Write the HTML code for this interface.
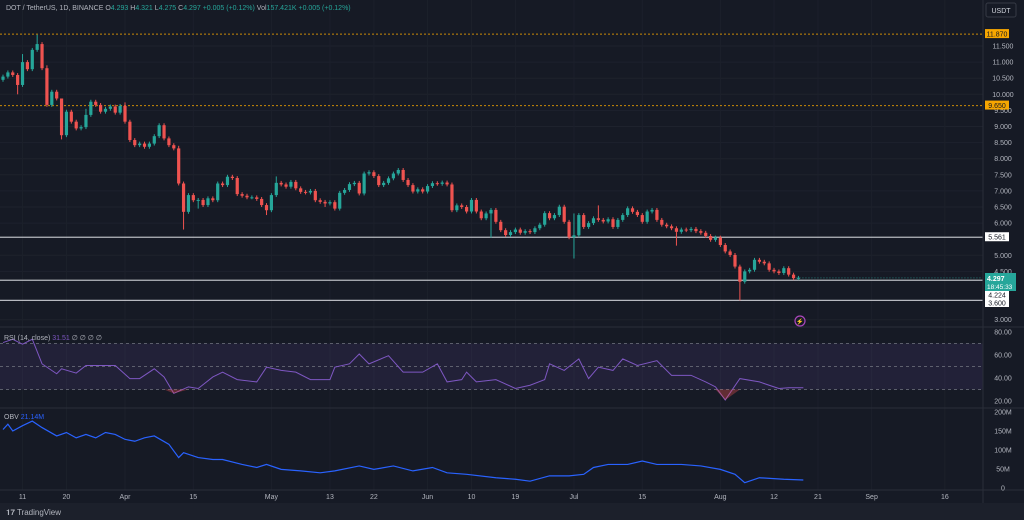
<!DOCTYPE html>
<html><head><meta charset="utf-8"><style>
html,body{margin:0;padding:0;background:#161a25;overflow:hidden}
svg{display:block;font-family:"Liberation Sans",sans-serif}
</style></head><body>
<svg id="c" width="1024" height="520" viewBox="0 0 1024 520">
<rect x="0" y="0" width="1024" height="520" fill="#161a25"/>
<g id="grid"></g>
<g id="main"></g>
<g id="rsi"></g>
<g id="obv"></g>
<g id="axes"></g>
<rect x="0" y="503" width="1024" height="17" fill="#1c202b"/>
<text x="6" y="515" font-size="8" fill="#b2b5be">𝟏𝟕 TradingView</text>
<text x="6" y="10" font-size="7" fill="#b2b5be">DOT / TetherUS, 1D, BINANCE <tspan fill="#b2b5be">O</tspan><tspan fill="#26a69a">4.293</tspan> H<tspan fill="#26a69a">4.321</tspan> L<tspan fill="#26a69a">4.275</tspan> C<tspan fill="#26a69a">4.297</tspan> <tspan fill="#26a69a">+0.005 (+0.12%)</tspan> Vol<tspan fill="#26a69a">157.421K</tspan> <tspan fill="#26a69a">+0.005 (+0.12%)</tspan></text>
<text x="4" y="340" font-size="7" fill="#b2b5be">RSI (14, close) <tspan fill="#7e57c2">31.51</tspan> ∅ ∅ ∅ ∅</text>
<text x="4" y="419" font-size="7" fill="#b2b5be">OBV <tspan fill="#2962ff">21.14M</tspan></text>
<rect x="986" y="3" width="30" height="14" rx="2" fill="none" stroke="#363a45"/>
<text x="1001" y="13" font-size="7" fill="#d1d4dc" text-anchor="middle">USDT</text>
<circle cx="800" cy="321" r="5" fill="none" stroke="#ab47bc" stroke-width="1.2"/>
<text x="800" y="323.5" font-size="6" fill="#ab47bc" text-anchor="middle">⚡</text>
</svg>
<script>
const closes=[10.55,10.68,10.6,10.29,11.0,10.78,11.38,11.56,10.81,9.67,
10.08,9.87,8.73,9.46,9.15,8.94,8.98,9.36,9.77,9.67,
9.46,9.55,9.62,9.43,9.64,9.15,8.58,8.42,8.47,8.37,
8.47,8.7,9.04,8.63,8.42,8.32,7.23,6.35,6.87,6.71,
6.72,6.56,6.77,6.71,7.23,7.18,7.44,7.4,6.9,6.85,
6.8,6.8,6.75,6.56,6.4,6.87,7.25,7.2,7.13,7.28,
7.08,6.97,6.95,7.0,6.71,6.66,6.61,6.65,6.45,6.94,
7.03,7.21,7.25,6.92,7.54,7.58,7.46,7.18,7.25,7.39,
7.54,7.65,
7.34,7.18,6.98,7.05,6.98,7.15,7.24,7.22,7.26,7.2,
6.4,6.55,6.5,6.36,6.72,6.36,6.15,6.3,6.41,6.04,
5.78,5.63,5.72,5.8,5.7,5.75,5.72,5.84,5.95,6.31,
6.15,6.25,6.51,6.04,5.56,5.62,6.25,5.88,6.0,6.15,
6.1,6.05,6.12,5.88,6.1,6.25,6.46,6.35,6.25,6.04,
6.36,6.41,6.1,5.95,5.9,5.84,5.73,5.8,5.78,5.82,5.75,5.7,
5.6,5.48,5.55,5.32,5.12,5.01,4.65,4.18,4.5,4.55,4.86,
4.8,4.75,4.55,4.5,4.45,4.6,4.4,4.29,4.3];
const firstOpen=10.45;
const highOverrides={4:11.25,7:11.85,9:10.9,12:9.6,17:9.55,25:9.75,36:8.4,56:7.45,117:6.3,122:6.55};
const lowOverrides={3:10.0,12:8.6,37:5.8,40:6.45,54:6.25,66:6.5,100:5.55,117:4.9,138:5.3,151:3.6};
const rsiIdx=[0,2,4,6,8,11,12,15,17,20,23,26,28,31,33,35,38,40,43,45,48,52,54,57,60,63,67,68,71,73,75,79,82,86,89,91,94,95,97,101,105,108,111,112,115,118,120,122,125,127,130,134,137,141,144,146,148,151,155,157,159,161,164];
const rsiVals=[70.8,73.7,69.4,73.7,52.3,43.7,48,44.3,50.9,50.9,50.9,39.5,39.5,48,40.9,26.6,32.3,30.9,40.9,45.1,38.6,36.6,49.4,46.6,45.1,38.6,38.6,49.4,52.3,60.9,52.3,59.4,45.1,45.1,52.3,36.6,38.6,45.1,36.6,38.6,30.9,33.7,38.6,52.3,46.6,56.6,39.5,49.4,46.6,56.6,50.9,55.1,42.3,42.3,36.6,32.3,20.9,39.5,36.6,33.7,30.9,31.5,31.5];
const obvIdx=[0,1,2,4,6,8,11,13,15,17,19,21,23,25,27,29,31,34,36,37,40,43,45,49,52,54,57,61,65,68,73,76,80,84,88,91,95,101,105,108,112,116,119,121,124,128,131,134,139,143,147,150,152,155,160,164];
const obvVals=[154,168,150,164,176,159,137,146,132,141,132,146,141,128,123,132,137,115,80,93,80,75,75,62,54,62,49,45,40,45,58,49,58,45,54,40,36,27,23,18,32,32,36,54,62,62,71,62,62,58,49,36,14,27,23,21];
const priceTicks=[11.5,11,10.5,10,9.5,9,8.5,8,7.5,7,6.5,6,5,4.5,3];
const rsiTicks=[80,60,40,20];
const obvTicks=[200,150,100,50,0];
const obvTickLabels=["200M","150M","100M","50M","0"];
const dateLabels=["11","20","Apr","15","May","13","22","Jun","10","19","Jul","15","Aug","12","21","Sep","16"];
const dateIdx=[4,13,25,39,55,67,76,87,96,105,117,131,147,158,167,178,193];
const levels=[{p:11.87,c:"#f7a600",dash:"2,2",lbl:"11.870",bg:"#f7a600",fg:"#131722"},{p:9.65,c:"#f7a600",dash:"2,2",lbl:"9.650",bg:"#f7a600",fg:"#131722"},{p:5.561,c:"#c9cbd1",dash:"",lbl:"5.561",bg:"#ffffff",fg:"#131722"},{p:4.224,c:"#c9cbd1",dash:"",lbl:"4.224",bg:"#ffffff",fg:"#131722"},{p:3.6,c:"#c9cbd1",dash:"",lbl:"3.600",bg:"#ffffff",fg:"#131722"}];

const NS="http://www.w3.org/2000/svg";
const PW=983;
const xOf=i=>3+i*4.88;
const yP=p=>46+(11.5-p)*32.2;
const yR=v=>332+(80-v)*(69/60);
const yO=v=>488-v*0.38;
function mk(tag,attrs,parent){const e=document.createElementNS(NS,tag);for(const k in attrs)e.setAttribute(k,attrs[k]);parent.appendChild(e);return e;}
const grid=document.getElementById('grid'),main=document.getElementById('main'),rsi=document.getElementById('rsi'),obv=document.getElementById('obv'),axes=document.getElementById('axes');

priceTicks.forEach(p=>{const l=mk('line',{x1:0,x2:PW,y1:yP(p),y2:yP(p),stroke:'#1e222d','stroke-width':1},grid);

});
dateIdx.forEach(i=>{const l=mk('line',{x1:xOf(i),x2:xOf(i),y1:0,y2:490,stroke:'#1c202b','stroke-width':1},grid);

});
[327,408,490].forEach(y=>{const l=mk('line',{x1:0,x2:1024,y1:y,y2:y,stroke:'#2a2e39','stroke-width':1},axes);

});
const ax=mk('line',{x1:PW,x2:PW,y1:0,y2:503,stroke:'#2a2e39'},axes);



levels.forEach(L=>{const y=yP(L.p);
const l=mk('line',{x1:0,x2:PW,y1:y,y2:y,stroke:L.c,'stroke-width':L.dash?1:1.3,'stroke-dasharray':L.dash,opacity:L.dash?0.8:0.9},main);

});

closes.forEach((c,i)=>{const o=i===0?firstOpen:closes[i-1];const up=c>=o;const col=up?'#26a69a':'#ef5350';
const hi=highOverrides[i]!==undefined?highOverrides[i]:Math.max(o,c)+0.06;
const lo=lowOverrides[i]!==undefined?lowOverrides[i]:Math.min(o,c)-0.06;
const x=xOf(i);
const w=mk('line',{x1:x,x2:x,y1:yP(hi),y2:yP(lo),stroke:col,'stroke-width':1},main);


const top=yP(Math.max(o,c)),h=Math.max(1,yP(Math.min(o,c))-top);
const b=mk('rect',{x:x-1.6,y:top,width:3.2,height:h,fill:col},main);

});

const band=mk('rect',{x:0,y:yR(70),width:PW,height:yR(30)-yR(70),fill:'rgba(126,87,194,0.12)'},rsi);


[70,50,30].forEach(v=>{const l=mk('line',{x1:0,x2:PW,y1:yR(v),y2:yR(v),stroke:'#787b86','stroke-width':1,'stroke-dasharray':'3,3',opacity:0.7},rsi);

});
const rp=rsiIdx.map((d,k)=>xOf(d)+','+yR(rsiVals[k])).join(' ');
const rl=mk('polyline',{points:rp,fill:'none',stroke:'#7e57c2','stroke-width':1},rsi);


rsiIdx.forEach((d,k)=>{if(k>0&&rsiVals[k]<30){const a=rsiIdx[k-1],b=rsiIdx[k+1];
const tri=mk('polygon',{points:xOf(a)+','+yR(30)+' '+xOf(d)+','+yR(rsiVals[k])+' '+xOf(b)+','+yR(30),fill:'rgba(239,83,80,0.35)'},rsi);

}});

const op=obvIdx.map((d,k)=>xOf(d)+','+yO(obvVals[k])).join(' ');
const ol=mk('polyline',{points:op,fill:'none',stroke:'#2962ff','stroke-width':1.2},obv);



const tf={'font-size':7,fill:'#b2b5be'};
priceTicks.forEach(p=>{const t=mk('text',Object.assign({x:1003,y:yP(p)+2.5,'text-anchor':'middle'},tf),axes);t.textContent=p.toFixed(3);

});
rsiTicks.forEach(v=>{const t=mk('text',Object.assign({x:1003,y:yR(v)+2.5,'text-anchor':'middle'},tf),axes);t.textContent=v.toFixed(2);

});
obvTicks.forEach((v,k)=>{const t=mk('text',Object.assign({x:1003,y:yO(v)+2.5,'text-anchor':'middle'},tf),axes);t.textContent=obvTickLabels[k];

});
dateLabels.forEach((s,k)=>{const t=mk('text',Object.assign({x:xOf(dateIdx[k]),y:499,'text-anchor':'middle'},tf),axes);t.textContent=s;

});
levels.forEach(L=>{let y=yP(L.p);if(L.lbl==='4.224')y=295;if(L.lbl==='3.600')y=303;
const r=mk('rect',{x:985,y:y-5,width:24,height:9,fill:L.bg},axes);


const t=mk('text',{x:997,y:y+2.5,'font-size':7,fill:L.fg,'text-anchor':'middle'},axes);t.textContent=L.lbl;

});
const last=closes[closes.length-1];
const cr=mk('rect',{x:985,y:273,width:31,height:18,fill:'#26a69a'},axes);


const ct=mk('text',{x:987,y:281,'font-size':7,fill:'#fff','font-weight':'bold'},axes);ct.textContent='4.297';


const cd=mk('text',{x:987,y:289,'font-size':6.5,fill:'#fff'},axes);cd.textContent='18:45:33';


const cl=mk('line',{x1:xOf(closes.length-1)-2,x2:PW,y1:yP(last),y2:yP(last),stroke:'#26a69a','stroke-dasharray':'1,2',opacity:0.7},main);


</script>
</body></html>
